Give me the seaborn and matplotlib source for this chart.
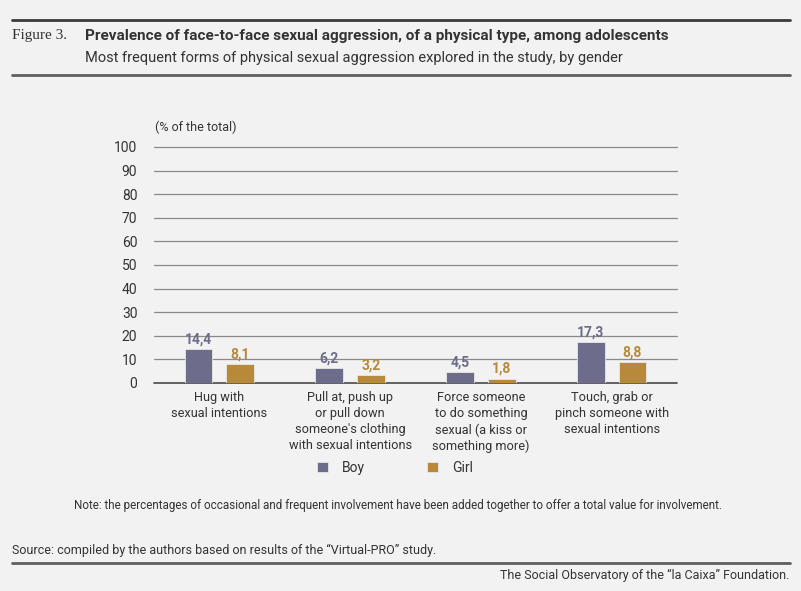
import matplotlib
matplotlib.use("Agg")
import matplotlib.pyplot as plt
import seaborn as sns
import pandas as pd
from matplotlib.lines import Line2D

categories = ["Hug with\nsexual intentions",
              "Pull at, push up\nor pull down\nsomeone's clothing\nwith sexual intentions",
              "Force someone\nto do something\nsexual (a kiss or\nsomething more)",
              "Touch, grab or\npinch someone with\nsexual intentions"]
boy = [14.4, 6.2, 4.5, 17.3]
girl = [8.1, 3.2, 1.8, 8.8]
series = ["Boy", "Girl"]
colors = ["#6d6d8b", "#b8893a"]
yticks = list(range(0, 101, 10))

df = pd.DataFrame({
    "cat": categories * 2,
    "gender": ["Boy"] * 4 + ["Girl"] * 4,
    "val": boy + girl,
})

sns.set_theme(style="white")
FONT = ["Roboto", "DejaVu Sans"]
plt.rcParams["font.family"] = FONT
BG = "#f2f2f2"
TXT = "#333333"

fig = plt.figure(figsize=(8.01, 5.91), dpi=100, facecolor=BG)
W, H = 801, 591
ax = fig.add_axes([154 / W, 208 / H, (677 - 154) / W, 236 / H])
ax.set_facecolor(BG)

sns.barplot(data=df, x="cat", y="val", hue="gender", hue_order=series,
            palette=colors, width=0.64, gap=0.34, ax=ax,
            edgecolor="#e8e8e8", linewidth=0.6, saturation=1)

for cont, col in zip(ax.containers, colors):
    ax.bar_label(cont, labels=[f"{v:.1f}".replace(".", ",") for v in cont.datavalues],
                 padding=2, color=col, fontsize=10, fontweight="semibold")

ax.set_ylim(0, 100)
ax.set_xlim(-0.5, 3.5)
ax.set_yticks(yticks)
ax.set_yticklabels([str(t) for t in yticks], fontsize=10, color=TXT)
ax.tick_params(axis="y", length=0, pad=12)
ax.tick_params(axis="x", length=0, pad=6)
ax.set_xticks(range(4))
ax.set_xticklabels(categories, fontsize=9.2, color=TXT, linespacing=1.3, va="top")
ax.set_xlabel("")
ax.set_ylabel("")
for t in yticks:
    ax.axhline(t, color="#555555" if t == 0 else "#8a8a8a", lw=1.3 if t == 0 else 0.9,
               zorder=0, clip_on=False)
for s in ax.spines.values():
    s.set_visible(False)

sns.move_legend(ax, loc="center", bbox_to_anchor=((395 - 154) / (677 - 154), (383 - 468) / 236),
                ncol=2, frameon=False, title=None, fontsize=10, handlelength=0.8,
                handleheight=0.8, columnspacing=4.5, handletextpad=1.0)
for txt in ax.get_legend().get_texts():
    txt.set_color(TXT)

# header / footer decorations
def hline(y, color, lw):
    fig.add_artist(Line2D([12 / W, 790 / W], [1 - y / H, 1 - y / H], color=color, lw=lw))

hline(20, "#3a3a3a", 2.0)
hline(75, "#5e5e5e", 2.0)
hline(563, "#5e5e5e", 2.0)

fig.text(12 / W, 1 - 36 / H, "Figure 3.", fontsize=11, color=TXT, va="center",
         family=["Liberation Serif", "DejaVu Serif"])
fig.text(85 / W, 1 - 36 / H, "Prevalence of face-to-face sexual aggression, of a physical type, among adolescents",
         fontsize=11, fontweight="bold", color=TXT, va="center")
fig.text(85 / W, 1 - 58 / H, "Most frequent forms of physical sexual aggression explored in the study, by gender",
         fontsize=10.5, color=TXT, va="center")
fig.text(155 / W, 1 - 127 / H, "(% of the total)", fontsize=9, color=TXT, va="center")
fig.text(398 / W, 1 - 506 / H,
         "Note: the percentages of occasional and frequent involvement have been added together to offer a total value for involvement.",
         fontsize=8.4, color=TXT, va="center", ha="center")
fig.text(12 / W, 1 - 550 / H, "Source: compiled by the authors based on results of the \u201cVirtual-PRO\u201d study.",
         fontsize=9, color=TXT, va="center")
fig.text(789 / W, 1 - 575 / H, "The Social Observatory of the \u201cla Caixa\u201d Foundation.",
         fontsize=9, color=TXT, va="center", ha="right")

fig.savefig("out.png", dpi=100, facecolor=BG)
